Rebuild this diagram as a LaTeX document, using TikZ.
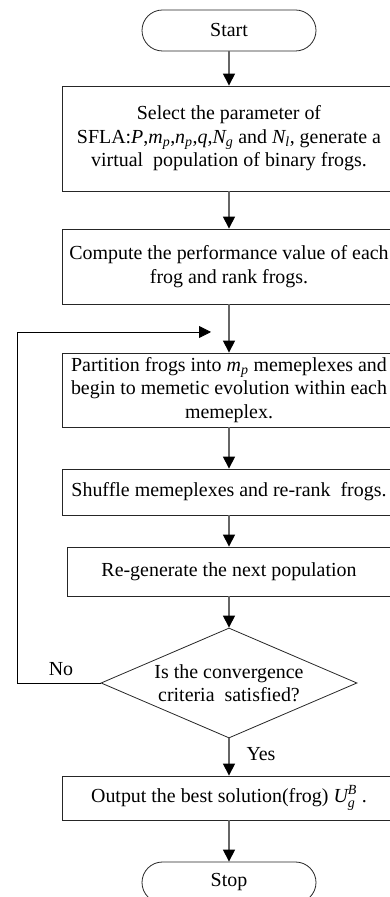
\documentclass[tikz,border=0pt]{standalone}
\usepackage{amsmath,fontspec}
\setmainfont{Liberation Serif}
\usetikzlibrary{arrows.meta,shapes.geometric}

\begin{document}
\begin{tikzpicture}[x=1bp,y=1bp,>={Triangle[length=12bp,width=12bp,black]},
  every node/.style={font=\fontsize{20}{23.5}\selectfont,align=center},
  box/.style={draw=black!85,line width=0.8bp,minimum width=334bp,inner sep=0pt},
  term/.style={draw=black!85,line width=0.8bp,rounded corners=20.5bp,minimum width=174bp,minimum height=41bp,inner sep=0pt},
  flow/.style={->,draw=black!60,line width=1.2bp},
  back/.style={->,draw=black,line width=0.8bp}]
\useasboundingbox (0,0) rectangle (389,897);
\node[term] (start) at (229,866.5) {Start};
\node[box,minimum height=105bp] (sel) at (229,758.5) {Select the parameter of\\SFLA:$\textit{P}$,$\textit{m}_{\textit{p}}$,$\textit{n}_{\textit{p}}$,$\textit{q}$,$\textit{N}_{\textit{g}}$ and $\textit{N}_{\textit{l}}$, generate a\\virtual~ population of binary frogs.};
\node[box,minimum height=75bp] (comp) at (229,630.5) {Compute the performance value of each\\frog and rank frogs.};
\node[box,minimum height=74bp] (part) at (229,507) {Partition frogs into $\textit{m}_{\textit{p}}$ memeplexes and\\begin to memetic evolution within each\\memeplex.};
\node[box,minimum height=46bp] (shuf) at (229,405) {Shuffle memeplexes and re-rank~ frogs.};
\node[box,minimum width=324bp,minimum height=49bp] (regen) at (229,325.5) {Re-generate the next population};
\node[draw=black!85,line width=0.8bp,diamond,aspect=2.33,inner sep=0pt,minimum width=256bp,minimum height=110bp] (dec) at (229,214) {Is the convergence\\criteria~ satisfied?};
\node[box,minimum height=44bp] (out) at (229,99) {Output the best solution(frog) $\textit{U}_{\textit{g}}^{\textit{B}}$ .};
\node[term] (stop) at (229,14.5) {Stop};
\coordinate (fb) at (211,565);
\draw[flow] (start)--(sel);\draw[flow] (sel)--(comp);\draw[flow] (comp)--(part);
\draw[flow] (part)--(shuf);\draw[flow] (shuf)--(regen);\draw[flow] (regen)--(dec);
\draw[flow] (dec)--(out);\draw[flow] (out)--(stop);
\draw[back] (dec.west)--(17,214)|-(fb);
\node (no) at (61,228) {No};
\node (yes) at (261,143) {Yes};
\end{tikzpicture}
\end{document}
